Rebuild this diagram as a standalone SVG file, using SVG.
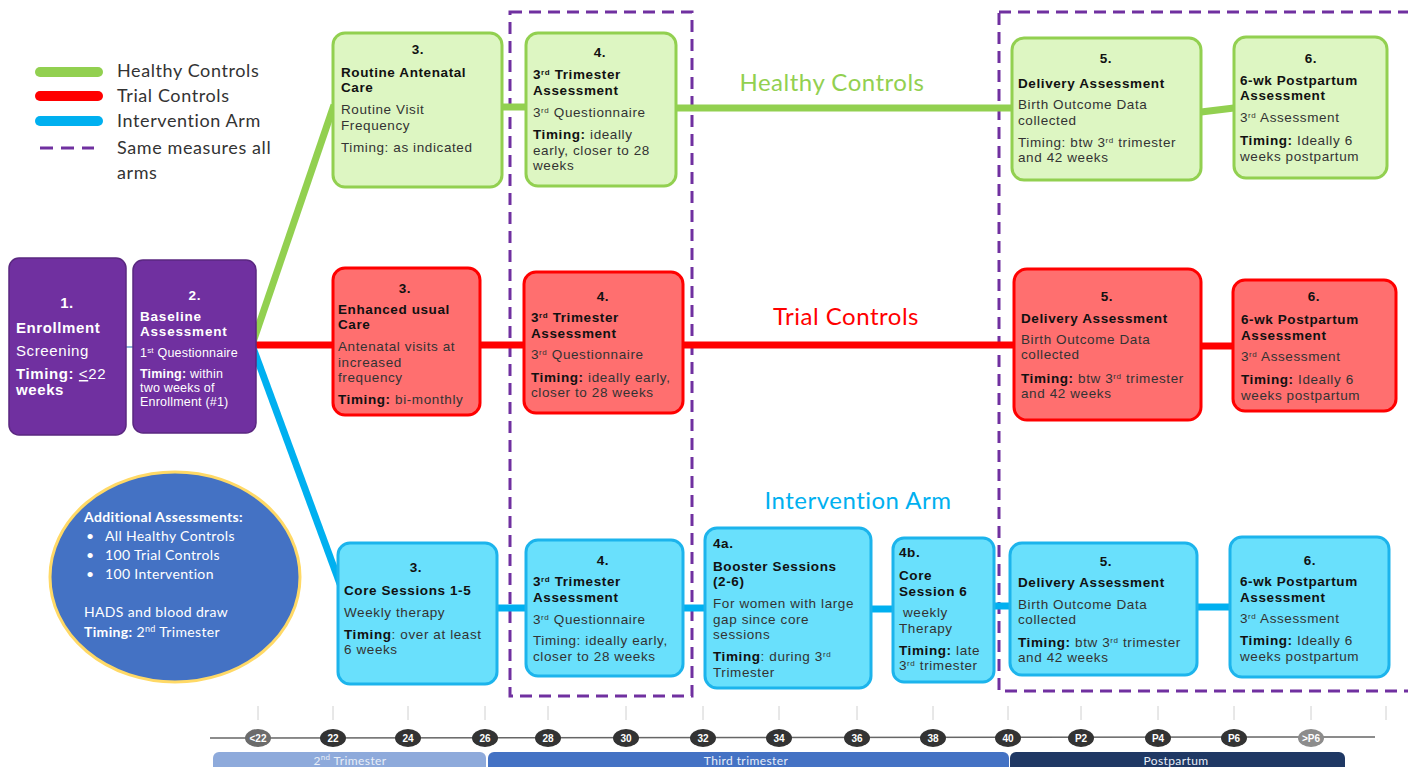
<svg xmlns="http://www.w3.org/2000/svg" width="1408" height="767" viewBox="0 0 1408 767">
<style>
.t{font-family:"Liberation Sans",Arial,sans-serif;font-size:13.5px;letter-spacing:0.6px;fill:#333}
.b{font-weight:bold;fill:#111}
.w{fill:#fff}
.ca{font-family:Lato,"Open Sans",sans-serif}
.g{fill:#ddf6c2;stroke:#92d050;stroke-width:3}
.r{fill:#ff6f6f;stroke:#ff0000;stroke-width:3}
.u{fill:#69e0fc;stroke:#1cb4ec;stroke-width:3}
.p{fill:#7030a0;stroke:#5a2780;stroke-width:1.5}
.gl{stroke:#92d050;stroke-width:7;fill:none}
.rl{stroke:#ff0000;stroke-width:7;fill:none}
.bl{stroke:#00b0f0;stroke-width:7;fill:none}
.dash{fill:none;stroke:#7030a0;stroke-width:3;stroke-dasharray:12 7}
.tick{stroke:#d0d0d0;stroke-width:1}
.dot{fill:#333}
.dt{font-family:"Liberation Sans Narrow","Liberation Sans",sans-serif;font-size:10px;fill:#fff;text-anchor:middle;font-weight:bold}
.bt{font-family:Lato,"Open Sans",sans-serif;font-size:12px;letter-spacing:0.4px;fill:#e8eef8;text-anchor:middle}
.e15{font-size:15px}
.e13{font-size:13.5px;letter-spacing:0.8px}
.e12{font-size:12.5px;letter-spacing:0.2px}
</style>
<rect width="1408" height="767" fill="#fff"/>

<!-- Legend -->
<g id="legend">
<line x1="40" y1="72" x2="98" y2="72" stroke="#92d050" stroke-width="10" stroke-linecap="round"/>
<line x1="40" y1="96" x2="98" y2="96" stroke="#ff0000" stroke-width="10" stroke-linecap="round"/>
<line x1="40" y1="121" x2="98" y2="121" stroke="#00b0f0" stroke-width="10" stroke-linecap="round"/>
<line x1="40" y1="148" x2="94" y2="148" stroke="#7030a0" stroke-width="3" stroke-dasharray="13 8"/>
<g class="ca" font-size="18" letter-spacing="0.6" fill="#333">
<text x="117" y="77">Healthy Controls</text>
<text x="117" y="102">Trial Controls</text>
<text x="117" y="127">Intervention Arm</text>
<text x="117" y="154">Same measures all</text>
<text x="117" y="179">arms</text>
</g>
</g>

<!-- Dashed regions -->
<g id="regions">
<rect class="dash" x="510" y="12" width="182" height="684"/>
<rect class="dash" x="999" y="12" width="420" height="679"/>
</g>

<!-- Connectors -->
<g id="connectors">
<line x1="126" y1="347" x2="134" y2="347" stroke="#8fb4d9" stroke-width="2"/>
<line class="gl" x1="252" y1="345" x2="334" y2="105"/>
<line class="rl" x1="252" y1="345" x2="334" y2="345"/>
<line class="bl" x1="252" y1="345" x2="343" y2="592"/>
<line class="gl" x1="502" y1="107" x2="526" y2="107"/>
<line class="gl" x1="676" y1="108" x2="1012" y2="108"/>
<line class="gl" x1="1201" y1="112" x2="1234" y2="108"/>
<line class="rl" x1="480" y1="345" x2="524" y2="345"/>
<line class="rl" x1="683" y1="345" x2="1014" y2="345"/>
<line class="rl" x1="1201" y1="346" x2="1233" y2="346"/>
<line class="bl" x1="497" y1="608" x2="526" y2="608"/>
<line class="bl" x1="683" y1="608" x2="705" y2="608"/>
<line class="bl" x1="871" y1="609" x2="893" y2="609"/>
<line class="bl" x1="994" y1="606" x2="1010" y2="606"/>
<line class="bl" x1="1197" y1="607" x2="1230" y2="607"/>
</g>

<!-- Arm labels -->
<g id="arm-labels" class="ca" font-size="24" letter-spacing="0.5" text-anchor="middle">
<text x="832" y="91" fill="#92d050">Healthy Controls</text>
<text x="846" y="325" fill="#ff0000">Trial Controls</text>
<text x="858" y="509" fill="#00b0f0">Intervention Arm</text>
</g>

<!-- Enrollment -->
<g id="n1">
<rect class="p" x="9" y="258" width="117" height="177" rx="10"/>
<text class="t b w e15" x="67" y="308" text-anchor="middle">1.</text>
<text class="t b w e15" x="16" y="333">Enrollment</text>
<text class="t w e15" x="16" y="356">Screening</text>
<text class="t w e15" x="16" y="379"><tspan font-weight="bold">Timing: </tspan><tspan text-decoration="underline">&lt;</tspan>22</text>
<text class="t b w e15" x="16" y="395">weeks</text>
</g>

<!-- Baseline -->
<g id="n2">
<rect class="p" x="133" y="260" width="123" height="173" rx="10"/>
<text class="t b w e13" x="195" y="300" text-anchor="middle">2.</text>
<text class="t b w e13" x="140" y="321">Baseline</text>
<text class="t b w e13" x="140" y="336">Assessment</text>
<text class="t w e12" x="140" y="357">1<tspan font-size="8" baseline-shift="super">st</tspan> Questionnaire</text>
<text class="t w e12" x="140" y="378"><tspan font-weight="bold">Timing:</tspan> within</text>
<text class="t w e12" x="140" y="392">two weeks of</text>
<text class="t w e12" x="140" y="406">Enrollment (#1)</text>
</g>

<!-- Ellipse -->
<g id="additional">
<ellipse cx="175" cy="577" rx="125" ry="105" fill="#4472c4" stroke="#ffd966" stroke-width="3"/>
<g class="ca" font-size="14" letter-spacing="0.35" fill="#fff">
<text x="84" y="522" font-weight="bold">Additional Assessments:</text>
<text x="86" y="541">•</text><text x="105" y="541">All Healthy Controls</text>
<text x="86" y="560">•</text><text x="105" y="560">100 Trial Controls</text>
<text x="86" y="579">•</text><text x="105" y="579">100 Intervention</text>
<text x="84" y="617">HADS and blood draw</text>
<text x="84" y="637"><tspan font-weight="bold">Timing:</tspan> 2<tspan font-size="9" baseline-shift="super">nd</tspan> Trimester</text>
</g>
</g>

<!-- Healthy controls row -->
<g id="hc3">
<rect class="g" x="333" y="33" width="169" height="154" rx="12"/>
<text class="t b" x="418" y="54" text-anchor="middle">3.</text>
<text class="t b" x="341" y="77">Routine Antenatal</text>
<text class="t b" x="341" y="92">Care</text>
<text class="t" x="341" y="114">Routine Visit</text>
<text class="t" x="341" y="130">Frequency</text>
<text class="t" x="341" y="152">Timing: as indicated</text>
</g>
<g id="hc4">
<rect class="g" x="526" y="33" width="150" height="153" rx="12"/>
<text class="t b" x="600" y="57" text-anchor="middle">4.</text>
<text class="t b" x="533" y="79">3<tspan font-size="8" baseline-shift="super">rd</tspan> Trimester</text>
<text class="t b" x="533" y="95">Assessment</text>
<text class="t" x="533" y="117">3<tspan font-size="8" baseline-shift="super">rd</tspan> Questionnaire</text>
<text class="t" x="533" y="139"><tspan class="b">Timing:</tspan> ideally</text>
<text class="t" x="533" y="155">early, closer to 28</text>
<text class="t" x="533" y="170">weeks</text>
</g>
<g id="hc5">
<rect class="g" x="1012" y="38" width="189" height="142" rx="12"/>
<text class="t b" x="1106" y="63" text-anchor="middle">5.</text>
<text class="t b" x="1018" y="88">Delivery Assessment</text>
<text class="t" x="1018" y="109">Birth Outcome Data</text>
<text class="t" x="1018" y="125">collected</text>
<text class="t" x="1018" y="147">Timing: btw 3<tspan font-size="8" baseline-shift="super">rd</tspan> trimester</text>
<text class="t" x="1018" y="162">and 42 weeks</text>
</g>
<g id="hc6">
<rect class="g" x="1234" y="37" width="153" height="141" rx="12"/>
<text class="t b" x="1311" y="63" text-anchor="middle">6.</text>
<text class="t b" x="1240" y="85">6-wk Postpartum</text>
<text class="t b" x="1240" y="100">Assessment</text>
<text class="t" x="1240" y="122">3<tspan font-size="8" baseline-shift="super">rd</tspan> Assessment</text>
<text class="t" x="1240" y="145"><tspan class="b">Timing:</tspan> Ideally 6</text>
<text class="t" x="1240" y="161">weeks postpartum</text>
</g>

<!-- Trial controls row -->
<g id="tc3">
<rect class="r" x="333" y="268" width="147" height="147" rx="12"/>
<text class="t b" x="405" y="293" text-anchor="middle">3.</text>
<text class="t b" x="338" y="314">Enhanced usual</text>
<text class="t b" x="338" y="329">Care</text>
<text class="t" x="338" y="351">Antenatal visits at</text>
<text class="t" x="338" y="367">increased</text>
<text class="t" x="338" y="382">frequency</text>
<text class="t" x="338" y="404"><tspan class="b">Timing:</tspan> bi-monthly</text>
</g>
<g id="tc4">
<rect class="r" x="524" y="272" width="159" height="141" rx="12"/>
<text class="t b" x="603" y="301" text-anchor="middle">4.</text>
<text class="t b" x="531" y="322">3<tspan font-size="8" baseline-shift="super">rd</tspan> Trimester</text>
<text class="t b" x="531" y="338">Assessment</text>
<text class="t" x="531" y="359">3<tspan font-size="8" baseline-shift="super">rd</tspan> Questionnaire</text>
<text class="t" x="531" y="382"><tspan class="b">Timing:</tspan> ideally early,</text>
<text class="t" x="531" y="397">closer to 28 weeks</text>
</g>
<g id="tc5">
<rect class="r" x="1014" y="269" width="187" height="151" rx="13"/>
<text class="t b" x="1107" y="301" text-anchor="middle">5.</text>
<text class="t b" x="1021" y="323">Delivery Assessment</text>
<text class="t" x="1021" y="344">Birth Outcome Data</text>
<text class="t" x="1021" y="359">collected</text>
<text class="t" x="1021" y="383"><tspan class="b">Timing:</tspan> btw 3<tspan font-size="8" baseline-shift="super">rd</tspan> trimester</text>
<text class="t" x="1021" y="398">and 42 weeks</text>
</g>
<g id="tc6">
<rect class="r" x="1233" y="280" width="163" height="131" rx="12"/>
<text class="t b" x="1314" y="301" text-anchor="middle">6.</text>
<text class="t b" x="1241" y="324">6-wk Postpartum</text>
<text class="t b" x="1241" y="340">Assessment</text>
<text class="t" x="1241" y="361">3<tspan font-size="8" baseline-shift="super">rd</tspan> Assessment</text>
<text class="t" x="1241" y="384"><tspan class="b">Timing:</tspan> Ideally 6</text>
<text class="t" x="1241" y="400">weeks postpartum</text>
</g>

<!-- Intervention row -->
<g id="ia3">
<rect class="u" x="338" y="543" width="159" height="141" rx="12"/>
<text class="t b" x="416" y="572" text-anchor="middle">3.</text>
<text class="t b" x="344" y="595">Core Sessions 1-5</text>
<text class="t" x="344" y="617">Weekly therapy</text>
<text class="t" x="344" y="639"><tspan class="b">Timing</tspan>:  over at least</text>
<text class="t" x="344" y="654">6 weeks</text>
</g>
<g id="ia4">
<rect class="u" x="526" y="540" width="157" height="136" rx="12"/>
<text class="t b" x="603" y="565" text-anchor="middle">4.</text>
<text class="t b" x="533" y="586">3<tspan font-size="8" baseline-shift="super">rd</tspan> Trimester</text>
<text class="t b" x="533" y="602">Assessment</text>
<text class="t" x="533" y="624">3<tspan font-size="8" baseline-shift="super">rd</tspan> Questionnaire</text>
<text class="t" x="533" y="645">Timing: ideally early,</text>
<text class="t" x="533" y="661">closer to 28 weeks</text>
</g>
<g id="ia4a">
<rect class="u" x="705" y="528" width="166" height="160" rx="12"/>
<text class="t b" x="713" y="548">4a.</text>
<text class="t b" x="713" y="571">Booster Sessions</text>
<text class="t b" x="713" y="586">(2-6)</text>
<text class="t" x="713" y="608">For women with large</text>
<text class="t" x="713" y="624">gap since core</text>
<text class="t" x="713" y="639">sessions</text>
<text class="t" x="713" y="661"><tspan class="b">Timing</tspan>:  during 3<tspan font-size="8" baseline-shift="super">rd</tspan></text>
<text class="t" x="713" y="677">Trimester</text>
</g>
<g id="ia4b">
<rect class="u" x="893" y="538" width="101" height="144" rx="11"/>
<text class="t b" x="899" y="557">4b.</text>
<text class="t b" x="899" y="580">Core</text>
<text class="t b" x="899" y="596">Session 6</text>
<text class="t" x="903" y="617">weekly</text>
<text class="t" x="899" y="633">Therapy</text>
<text class="t" x="899" y="655"><tspan class="b">Timing:</tspan>  late</text>
<text class="t" x="899" y="670">3<tspan font-size="8" baseline-shift="super">rd</tspan> trimester</text>
</g>
<g id="ia5">
<rect class="u" x="1010" y="543" width="187" height="132" rx="12"/>
<text class="t b" x="1106" y="566" text-anchor="middle">5.</text>
<text class="t b" x="1018" y="587">Delivery Assessment</text>
<text class="t" x="1018" y="609">Birth Outcome Data</text>
<text class="t" x="1018" y="624">collected</text>
<text class="t" x="1018" y="647"><tspan class="b">Timing:</tspan> btw 3<tspan font-size="8" baseline-shift="super">rd</tspan> trimester</text>
<text class="t" x="1018" y="662">and 42 weeks</text>
</g>
<g id="ia6">
<rect class="u" x="1230" y="537" width="159" height="140" rx="12"/>
<text class="t b" x="1310" y="565" text-anchor="middle">6.</text>
<text class="t b" x="1240" y="586">6-wk Postpartum</text>
<text class="t b" x="1240" y="602">Assessment</text>
<text class="t" x="1240" y="623">3<tspan font-size="8" baseline-shift="super">rd</tspan> Assessment</text>
<text class="t" x="1240" y="645"><tspan class="b">Timing:</tspan> Ideally 6</text>
<text class="t" x="1240" y="661">weeks postpartum</text>
</g>

<!-- Timeline -->
<g id="timeline">
<line x1="210" y1="738" x2="1375" y2="737" stroke="#666" stroke-width="1.5"/>
<g class="tick">
<line x1="258" y1="706" x2="258" y2="720"/><line x1="333" y1="706" x2="333" y2="720"/>
<line x1="408" y1="706" x2="408" y2="720"/><line x1="485" y1="706" x2="485" y2="720"/>
<line x1="548" y1="706" x2="548" y2="720"/><line x1="626" y1="706" x2="626" y2="720"/>
<line x1="703" y1="706" x2="703" y2="720"/><line x1="779" y1="706" x2="779" y2="720"/>
<line x1="857" y1="706" x2="857" y2="720"/><line x1="933" y1="706" x2="933" y2="720"/>
<line x1="1008" y1="706" x2="1008" y2="720"/><line x1="1081" y1="706" x2="1081" y2="720"/>
<line x1="1158" y1="706" x2="1158" y2="720"/><line x1="1234" y1="706" x2="1234" y2="720"/>
<line x1="1311" y1="706" x2="1311" y2="720"/><line x1="1386" y1="706" x2="1386" y2="720"/>
</g>
<ellipse cx="258" cy="738" rx="13" ry="9" fill="#6b6b6b"/>
<ellipse class="dot" cx="333" cy="738" rx="13" ry="9"/>
<ellipse class="dot" cx="408" cy="738" rx="13" ry="9"/>
<ellipse class="dot" cx="485" cy="738" rx="13" ry="9"/>
<ellipse class="dot" cx="548" cy="738" rx="13" ry="9"/>
<ellipse class="dot" cx="626" cy="738" rx="13" ry="9"/>
<ellipse class="dot" cx="703" cy="738" rx="13" ry="9"/>
<ellipse class="dot" cx="779" cy="738" rx="13" ry="9"/>
<ellipse class="dot" cx="857" cy="738" rx="13" ry="9"/>
<ellipse class="dot" cx="933" cy="738" rx="13" ry="9"/>
<ellipse class="dot" cx="1008" cy="738" rx="13" ry="9"/>
<ellipse class="dot" cx="1081" cy="738" rx="13" ry="9"/>
<ellipse class="dot" cx="1158" cy="738" rx="13" ry="9"/>
<ellipse class="dot" cx="1234" cy="738" rx="13" ry="9"/>
<ellipse cx="1311" cy="738" rx="13" ry="9" fill="#8c8c8c"/>
<text class="dt" x="258" y="741.5">&lt;22</text>
<text class="dt" x="333" y="741.5">22</text>
<text class="dt" x="408" y="741.5">24</text>
<text class="dt" x="485" y="741.5">26</text>
<text class="dt" x="548" y="741.5">28</text>
<text class="dt" x="626" y="741.5">30</text>
<text class="dt" x="703" y="741.5">32</text>
<text class="dt" x="779" y="741.5">34</text>
<text class="dt" x="857" y="741.5">36</text>
<text class="dt" x="933" y="741.5">38</text>
<text class="dt" x="1008" y="741.5">40</text>
<text class="dt" x="1081" y="741.5">P2</text>
<text class="dt" x="1158" y="741.5">P4</text>
<text class="dt" x="1234" y="741.5">P6</text>
<text class="dt" x="1311" y="741.5">&gt;P6</text>
<rect x="213" y="752" width="273" height="24" rx="6" fill="#8eaadb"/>
<rect x="488" y="752" width="521" height="24" rx="6" fill="#4472c4"/>
<rect x="1010" y="752" width="335" height="24" rx="6" fill="#1f3864"/>
<text class="bt" x="350" y="765">2<tspan font-size="8" baseline-shift="super">nd</tspan> Trimester</text>
<text class="bt" x="746" y="765">Third trimester</text>
<text class="bt" x="1176" y="765">Postpartum</text>
</g>
</svg>
